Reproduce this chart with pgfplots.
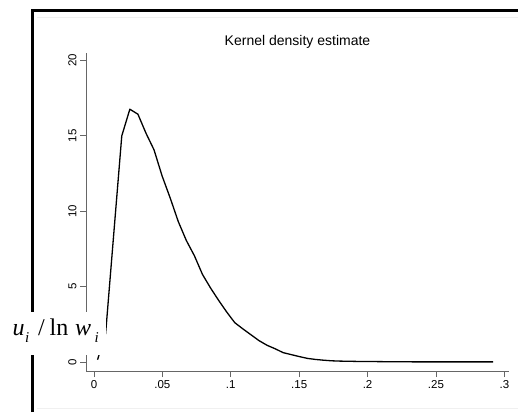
\documentclass[border=0pt]{standalone}
\usepackage{fontspec}
\setmainfont{Liberation Sans}
\newfontfamily\timesfont{Liberation Serif}
\usepackage{pgfplots}
\pgfplotsset{compat=1.18}
\usepackage{pgfplotstable}
\pgfplotstableread{
x y
0.0026 0.15
0.0085 1.9
0.0144 8.46
0.0203 15.0
0.0262 16.77
0.0321 16.44
0.0380 15.18
0.0439 14.07
0.0498 12.34
0.0557 10.88
0.0616 9.32
0.0675 8.06
0.0734 7.05
0.0793 5.81
0.0852 4.91
0.0911 4.09
0.0970 3.32
0.1029 2.61
0.1088 2.20
0.1147 1.81
0.1206 1.42
0.1265 1.11
0.1324 0.88
0.1383 0.62
0.1442 0.49
0.1501 0.36
0.1560 0.24
0.1619 0.17
0.1678 0.12
0.1737 0.08
0.1796 0.06
0.1855 0.05
0.1914 0.04
0.1973 0.035
0.2032 0.03
0.2091 0.025
0.2150 0.02
0.2209 0.02
0.2268 0.015
0.2327 0.01
0.2386 0.01
0.2445 0.01
0.2504 0.01
0.2563 0.01
0.2622 0.01
0.2681 0.01
0.2740 0.01
0.2799 0.01
0.2858 0.01
0.2917 0.01
}\kde
\begin{document}
\begin{tikzpicture}[x=1pt,y=1pt]
\useasboundingbox (0,0) rectangle (518,412);
\fill[white] (0,0) rectangle (518,412);
\draw[black!6] (37,4) -- (518,4);
\draw[black!6] (37,395) -- (518,395);
\draw[black, line width=3pt] (32,0) -- (32,401) -- (518,401);
\begin{axis}[
  at={(86pt,41pt)}, anchor=south west,
  scale only axis, width=423pt, height=318pt,
  xmin=-0.00585, xmax=0.3034, ymin=-0.597, ymax=20.5,
  axis x line*=bottom, axis y line*=left,
  axis line style={black!60, line width=0.9pt, -},
  tick align=outside, tick style={black!60, line width=0.9pt},
  major tick length=6pt,
  xtick={0,0.05,0.1,0.15,0.2,0.25,0.3},
  xticklabels={0,.05,.1,.15,.2,.25,.3},
  ytick={0,5,10,15,20},
  yticklabels={0,5,10,15,20},
  ticklabel style={font=\fontsize{11.5}{12}\selectfont},
  yticklabel style={rotate=90, anchor=south},
  clip=false,
]
\addplot[black, line width=1.3pt, line join=round] table[x=x,y=y] {\kde};
\end{axis}
\node[font=\fontsize{14}{16}\selectfont] at (297.5,370) {Kernel density estimate};
\fill[white] (10,57) rectangle (105.5,100);
\begin{scope}[every node/.style={anchor=base west, inner sep=0pt, font=\timesfont\fontsize{24}{26}\selectfont}]
\node at (12.5,77) {\textit{u}};
\node[font=\timesfont\itshape\fontsize{15}{16}\selectfont] at (25,70) {i};
\node at (38,77) {/};
\node at (49.5,77) {ln};
\node at (75,77) {\textit{w}};
\node[font=\timesfont\itshape\fontsize{15}{16}\selectfont] at (94.5,70) {i};
\end{scope}
\end{tikzpicture}
\end{document}
